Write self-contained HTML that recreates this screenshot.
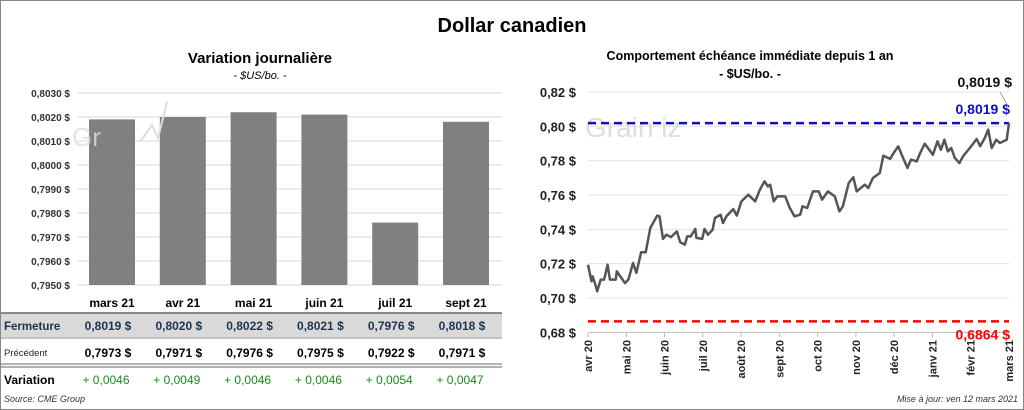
<!DOCTYPE html>
<html><head><meta charset="utf-8">
<style>
body{margin:0;background:#fff;}
svg{display:block;font-family:"Liberation Sans",Arial,sans-serif;}
</style></head>
<body>
<svg id="s" width="1024" height="410" viewBox="0 0 1024 410" xmlns="http://www.w3.org/2000/svg">
<rect x="0.5" y="0.5" width="1023" height="409" fill="#fff" stroke="#888"/>
<text x="512" y="32" text-anchor="middle" font-size="20" font-weight="bold" fill="#000">Dollar canadien</text>
<text x="260" y="63" text-anchor="middle" font-size="15" font-weight="bold">Variation  journalière</text>
<text x="260" y="79" text-anchor="middle" font-size="11" font-style="italic">- $US/bo. -</text>
<text x="750" y="60" text-anchor="middle" font-size="12.5" font-weight="bold">Comportement échéance immédiate depuis 1 an</text>
<text x="750" y="78" text-anchor="middle" font-size="12.5" font-weight="bold">- $US/bo. -</text>
<g id="left"></g>
<g id="tbl"></g>
<g id="right"></g>
<text x="4" y="402" font-size="9" font-style="italic" fill="#333">Source: CME Group</text>
<text x="1018" y="402" text-anchor="end" font-size="9" font-style="italic" fill="#333">Mise à jour: ven 12 mars 2021</text>
</svg>
<script>
const NS="http://www.w3.org/2000/svg";
const barCats=["mars 21","avr 21","mai 21","juin 21","juil 21","sept 21"];
const closeVals=[0.8019,0.8020,0.8022,0.8021,0.7976,0.8018];
const prevVals=[0.7973,0.7971,0.7976,0.7975,0.7922,0.7971];
const barTicks=[0.7950,0.7960,0.7970,0.7980,0.7990,0.8000,0.8010,0.8020,0.8030];
const lineDays=[0,3,4,6,8,11,14,17,19,24,25,28,32,35,39,42,46,50,54,60,62,65,68,72,77,80,84,86,89,93,94,99,101,104,108,110,115,117,120,126,129,133,139,145,149,153,156,158,161,164,171,175,179,184,186,190,195,200,203,208,214,218,221,226,230,233,240,243,247,253,256,262,265,269,272,277,280,285,288,292,299,303,306,309,312,315,318,322,325,331,337,340,344,347,350,354,357,363,365];
const lineVals=[0.7194,0.7097,0.7126,0.7087,0.7039,0.7107,0.7107,0.7194,0.7107,0.7107,0.7155,0.7126,0.7087,0.7107,0.7204,0.7146,0.7266,0.7266,0.7408,0.7480,0.7476,0.7344,0.7369,0.7355,0.7388,0.7324,0.7311,0.7359,0.7359,0.7402,0.7350,0.7344,0.7402,0.7369,0.7398,0.7466,0.7485,0.7437,0.7476,0.7518,0.7480,0.7563,0.7602,0.7563,0.7631,0.7680,0.7650,0.7660,0.7563,0.7592,0.7592,0.7524,0.7476,0.7485,0.7534,0.7524,0.7621,0.7621,0.7573,0.7621,0.7592,0.7505,0.7534,0.7670,0.7703,0.7621,0.7660,0.7641,0.7699,0.7728,0.7829,0.7810,0.7845,0.7883,0.7835,0.7757,0.7806,0.7796,0.7845,0.7899,0.7835,0.7913,0.7864,0.7922,0.7854,0.7874,0.7816,0.7786,0.7825,0.7874,0.7926,0.7884,0.7932,0.7981,0.7874,0.7922,0.7903,0.7922,0.8019];
const lineTicks=[0.68,0.70,0.72,0.74,0.76,0.78,0.80,0.82];
const monthLabels=["avr 20","mai 20","juin 20","juil 20","août 20","sept 20","oct 20","nov 20","déc 20","janv 21","févr 21","mars 21"];
const highVal=0.8019, lowVal=0.6864, lastVal=0.8019;

function mk(p,tag,a,txt){const e=document.createElementNS(NS,tag);for(const k in a)e.setAttribute(k,a[k]);if(txt!==undefined)e.textContent=txt;p.appendChild(e);return e;}
const fmt=(v,d)=>v.toFixed(d).replace('.',',');

const L=document.getElementById('left');
const by=v=>93+(0.8030-v)/0.001*24;
const bx=i=>112+i*70.8;
barTicks.forEach(t=>{
 const g=mk(L,'line',{x1:77,x2:502,y1:by(t),y2:by(t),stroke:'#d9d9d9','stroke-width':1});
 
 
 const tx=mk(L,'text',{x:70,y:by(t)+4,'text-anchor':'end','font-size':10,'font-weight':'bold',fill:'#333'},fmt(t,4)+' $');
 
 
});
closeVals.forEach((v,i)=>{
 const r=mk(L,'rect',{x:bx(i)-23,y:by(v),width:46,height:by(0.7950)-by(v),fill:'#808080'});
 
 
});
mk(L,'text',{x:72,y:146,'font-size':26,fill:'#ddd','fill-opacity':0.8},'Gr');
mk(L,'polyline',{points:'140,142 152,125 158,138 167,102',fill:'none',stroke:'#ddd','stroke-width':2});

const T=document.getElementById('tbl');
const bg=mk(T,'rect',{x:1,y:313,width:501,height:24,fill:'#d9d9d9'});


mk(T,'line',{x1:1,x2:502,y1:313,y2:313,stroke:'#666','stroke-width':1.5});
mk(T,'line',{x1:1,x2:502,y1:338,y2:338,stroke:'#888','stroke-width':1});
mk(T,'line',{x1:1,x2:502,y1:364,y2:364,stroke:'#666','stroke-width':1});
mk(T,'line',{x1:1,x2:502,y1:367,y2:367,stroke:'#666','stroke-width':1});
const h1=mk(T,'text',{x:4,y:330,'font-size':11.5,'font-weight':'bold',fill:'#1f3350'},'Fermeture');


const h2=mk(T,'text',{x:4,y:356,'font-size':9.5,fill:'#222'},'Précédent');


const h3=mk(T,'text',{x:4,y:384,'font-size':12,'font-weight':'bold',fill:'#000'},'Variation');


barCats.forEach((c,i)=>{
 const x=bx(i);
 const a=mk(T,'text',{x:x,y:307,'text-anchor':'middle','font-size':12,'font-weight':'bold'},c);
 
 
 const b=mk(T,'text',{x:x-4,y:330,'text-anchor':'middle','font-size':12,'font-weight':'bold',fill:'#1f3350'},fmt(closeVals[i],4)+'  $');
 
 
 const d=mk(T,'text',{x:x-4,y:357,'text-anchor':'middle','font-size':12,'font-weight':'bold'},fmt(prevVals[i],4)+'  $');
 
 
 const e=mk(T,'text',{x:x-6,y:384,'text-anchor':'middle','font-size':12,fill:'#1a8a1a'},'+ '+fmt(closeVals[i]-prevVals[i],4));
 
 
});

const R=document.getElementById('right');
const X0=588,X1=1009;
const ly=v=>92+(0.82-v)/0.12*206;
const lx=d=>X0+d/365*(X1-X0);
lineTicks.forEach(t=>{
 const g=mk(R,'line',{x1:X0,x2:X1,y1:ly(t),y2:ly(t),stroke:t===0.68?'#bbb':'#e3e3e3','stroke-width':1});
 
 
 const tx=mk(R,'text',{x:576,y:ly(t)+5,'text-anchor':'end','font-size':13,'font-weight':'bold',fill:'#222'},fmt(t,2)+' $');
 
 
});
mk(R,'text',{x:585,y:137,'font-size':28,fill:'#ddd'},'Grain  iz');
monthLabels.forEach((m,i)=>{
 const x=X0+i*(X1-X0)/11;
 mk(R,'line',{x1:x,x2:x,y1:333,y2:337,stroke:'#bbb'});
 const tx=mk(R,'text',{x:0,y:0,'text-anchor':'end','font-size':11,'font-weight':'bold',fill:'#222',transform:`translate(${x+4},340) rotate(-90)`},m);
 
 
});
const hl=mk(R,'line',{x1:X0,x2:X1,y1:ly(highVal),y2:ly(highVal),stroke:'#1010c0','stroke-width':2.5,'stroke-dasharray':'8,5'});


const ll=mk(R,'line',{x1:X0,x2:X1,y1:ly(lowVal),y2:ly(lowVal),stroke:'#ff0000','stroke-width':2.5,'stroke-dasharray':'8,5'});


const ht=mk(R,'text',{x:1010,y:ly(highVal)-9,'text-anchor':'end','font-size':14,'font-weight':'bold',fill:'#1010c0'},fmt(highVal,4)+' $');


const lt=mk(R,'text',{x:1010,y:ly(lowVal)+18,'text-anchor':'end','font-size':14,'font-weight':'bold',fill:'#ff0000'},fmt(lowVal,4)+' $');


const lastT=mk(R,'text',{x:1012,y:87,'text-anchor':'end','font-size':14,'font-weight':'bold',fill:'#111'},fmt(lastVal,4)+' $');


mk(R,'line',{x1:1000,x2:1008,y1:92,y2:106,stroke:'#999','stroke-width':0.8});
const pts=lineDays.map((d,i)=>lx(d).toFixed(1)+','+ly(lineVals[i]).toFixed(1)).join(' ');
const pl=mk(R,'polyline',{points:pts,fill:'none',stroke:'#555','stroke-width':2.5,'stroke-linejoin':'round'});


</script>
</body></html>
